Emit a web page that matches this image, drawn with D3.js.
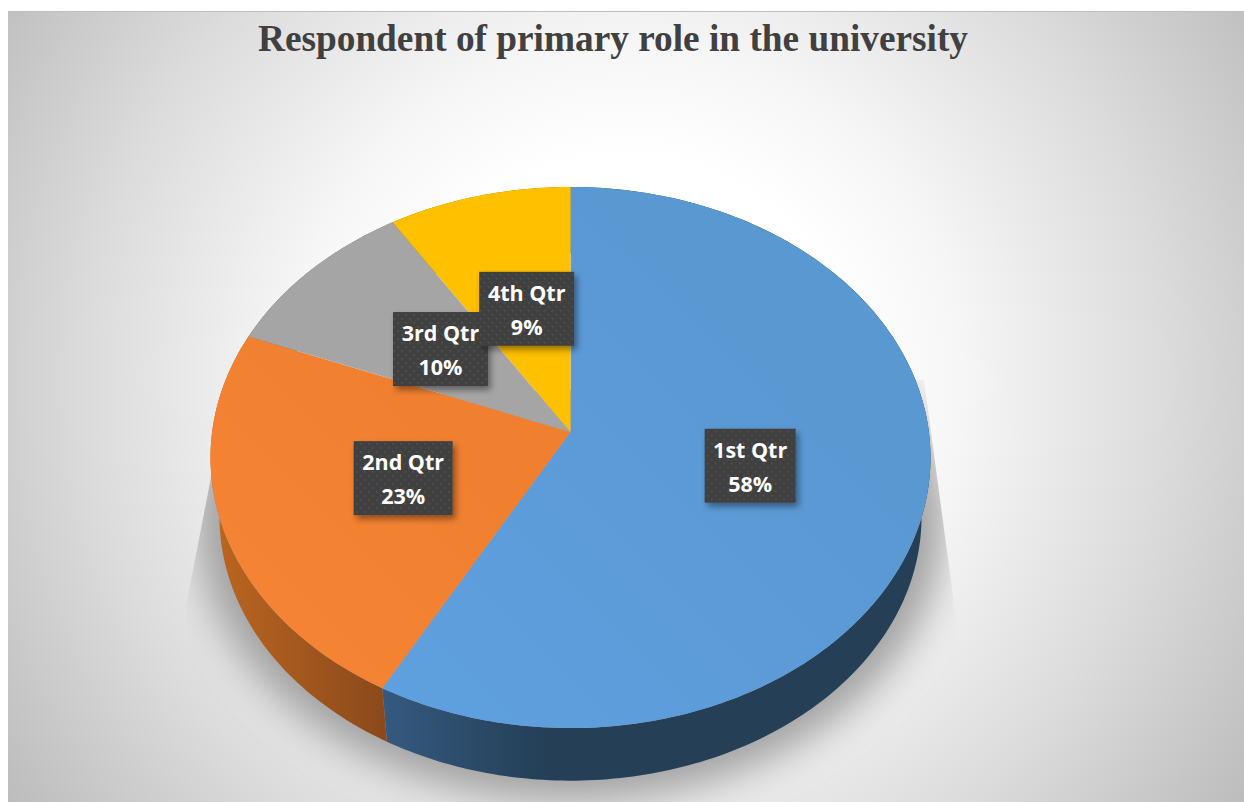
<!DOCTYPE html>
<html>
<head>
<meta charset="utf-8">
<script src="https://cdnjs.cloudflare.com/ajax/libs/d3/7.8.5/d3.min.js"></script>
<style>
  html, body { margin: 0; padding: 0; background: #fff; }
  svg { display: block; }
</style>
</head>
<body>
<svg id="chart" width="1244" height="802"></svg>
<script>
const title = "Respondent of primary role in the university";
const categories = ["1st Qtr", "2nd Qtr", "3rd Qtr", "4th Qtr"];
const shares = [58, 23, 10, 9];
const topColors = [["#5A98D2", "#5FA0E0"], ["#F08030", "#F68435"], ["#A5A5A5", "#A5A5A5"], ["#FFC000", "#FFC000"]];
const wallColors = [["#35597F", "#243F56"], ["#BC6620", "#8B4A1B"], ["#636363", "#636363"], ["#997300", "#997300"]];

// Camera model of the tilted disc: screen position of a point on the disc
// given its angle (clockwise from the top), radius fraction and extrusion depth.
const disc = { cx: 570.5, cy: 432, rx: 358.4, a: 227.4, c: -0.0943, depthY: 60, depthScale: 0.975 };
function project(theta, r = 1, lower = 0) {
  const u = -Math.cos(theta) * r;
  const den = disc.c * u + 1;
  const s = lower ? disc.depthScale : 1;
  return [
    disc.cx + disc.rx * Math.sin(theta) * r / den * s,
    disc.cy + (disc.a * u + disc.cy) / den * s - disc.cy * s + (lower ? disc.depthY : 0)
  ];
}
function arcPoints(a0, a1, r = 1, lower = 0) {
  const n = Math.max(8, Math.ceil((a1 - a0) * 60));
  return d3.range(n + 1).map(i => project(a0 + (a1 - a0) * i / n, r, lower));
}

const svg = d3.select("#chart");
const defs = svg.append("defs");
const line = d3.line();

// Chart area backdrop
const bg = defs.append("radialGradient").attr("id", "backdrop")
  .attr("gradientUnits", "userSpaceOnUse")
  .attr("cx", 626).attr("cy", 380).attr("r", 745);
[[0, "#ffffff"], [0.3, "#ffffff"], [0.45, "#f6f6f6"], [0.72, "#dcdcdc"], [1, "#bdbdbd"]]
  .forEach(([o, c]) => bg.append("stop").attr("offset", o).attr("stop-color", c));
svg.append("rect").attr("x", 8).attr("y", 11).attr("width", 1236).attr("height", 791).attr("fill", "url(#backdrop)");
svg.append("rect").attr("x", 8).attr("y", 11).attr("width", 1236).attr("height", 1).attr("fill", "#bdbdbd");

// Soft cast shadow under the disc
defs.append("filter").attr("id", "castBlur")
  .attr("x", "-20%").attr("y", "-20%").attr("width", "140%").attr("height", "140%")
  .append("feGaussianBlur").attr("stdDeviation", 19);
defs.append("clipPath").attr("id", "castClip").append("polygon")
  .attr("points", [[226, 400], [186, 606], [186, 802], [956, 802], [956, 618], [924, 380]].join(" "));
svg.append("g").attr("clip-path", "url(#castClip)")
  .append("path")
  .attr("d", line(arcPoints(0, 2 * Math.PI, 1.065, 1)) + "Z")
  .attr("fill", "#a2a2a2")
  .attr("filter", "url(#castBlur)");

// Pie layout
const pie = d3.pie().value(d => d).sort(null);
const slices = pie(shares);

// Side wall of each slice, shaded along its sweep
slices.forEach((s, i) => {
  const seam = project(slices[0].endAngle)[0];
  const grad = defs.append("linearGradient").attr("id", "wall" + i)
    .attr("gradientUnits", "userSpaceOnUse")
    .attr("x1", i === 0 ? seam : project(Math.PI * 1.5)[0])
    .attr("x2", i === 0 ? seam + 165 : seam)
    .attr("y1", 0).attr("y2", 0);
  grad.append("stop").attr("offset", 0).attr("stop-color", wallColors[i][0]);
  grad.append("stop").attr("offset", 1).attr("stop-color", wallColors[i][1]);
  const upper = arcPoints(s.startAngle, s.endAngle);
  const lower = arcPoints(s.startAngle, s.endAngle, 1, 1).reverse();
  svg.append("path")
    .attr("d", line(upper.concat(lower)) + "Z")
    .attr("fill", `url(#wall${i})`);
});

// Top faces
slices.forEach((s, i) => {
  const grad = defs.append("linearGradient").attr("id", "face" + i)
    .attr("x1", 1).attr("y1", 0).attr("x2", 0).attr("y2", 1);
  grad.append("stop").attr("offset", 0.3).attr("stop-color", topColors[i][0]);
  grad.append("stop").attr("offset", 1).attr("stop-color", topColors[i][1]);
  const pts = [project(0, 0)].concat(arcPoints(s.startAngle, s.endAngle));
  svg.append("path")
    .attr("d", line(pts) + "Z")
    .attr("fill", `url(#face${i})`);
});

// Title
svg.append("text")
  .attr("x", 613).attr("y", 51)
  .attr("text-anchor", "middle")
  .attr("font-family", "'Liberation Serif', serif")
  .attr("font-weight", 700)
  .attr("font-size", 37.3)
  .attr("fill", "#404040")
  .text(title);

// Dotted fill and drop shadow of the data label boxes
const dots = defs.append("pattern").attr("id", "labelDots")
  .attr("patternUnits", "userSpaceOnUse").attr("width", 8).attr("height", 8);
dots.append("rect").attr("width", 8).attr("height", 8).attr("fill", "#404040");
dots.append("rect").attr("x", 1).attr("y", 1).attr("width", 1.5).attr("height", 1.5).attr("fill", "#555555");
dots.append("rect").attr("x", 5).attr("y", 5).attr("width", 1.5).attr("height", 1.5).attr("fill", "#555555");
const boxShadow = defs.append("filter").attr("id", "boxShadow")
  .attr("x", "-20%").attr("y", "-20%").attr("width", "140%").attr("height", "150%");
boxShadow.append("feDropShadow")
  .attr("dx", 3).attr("dy", 4).attr("stdDeviation", 3)
  .attr("flood-color", "#000").attr("flood-opacity", 0.4);

// Data labels sit at the radial midpoint of each slice
slices.forEach((s, i) => {
  const [x, y] = project((s.startAngle + s.endAngle) / 2, 0.5);
  const g = svg.append("g").attr("transform", `translate(${x + 4},${y})`);
  const box = g.append("rect").attr("fill", "url(#labelDots)").attr("filter", "url(#boxShadow)");
  const text = g.append("text")
    .attr("text-anchor", "middle")
    .attr("font-family", "'Open Sans', sans-serif")
    .attr("font-weight", 700)
    .attr("font-size", 21.5)
    .attr("fill", "#ffffff");
  text.append("tspan").attr("x", 0).attr("y", -8).text(categories[i]);
  text.append("tspan").attr("x", 0).attr("y", 26).text(shares[i] + "%");
  const w = Math.round(text.node().getBBox().width) + 17;
  box.attr("x", -w / 2).attr("y", -37).attr("width", w).attr("height", 74);
});
</script>
</body>
</html>
